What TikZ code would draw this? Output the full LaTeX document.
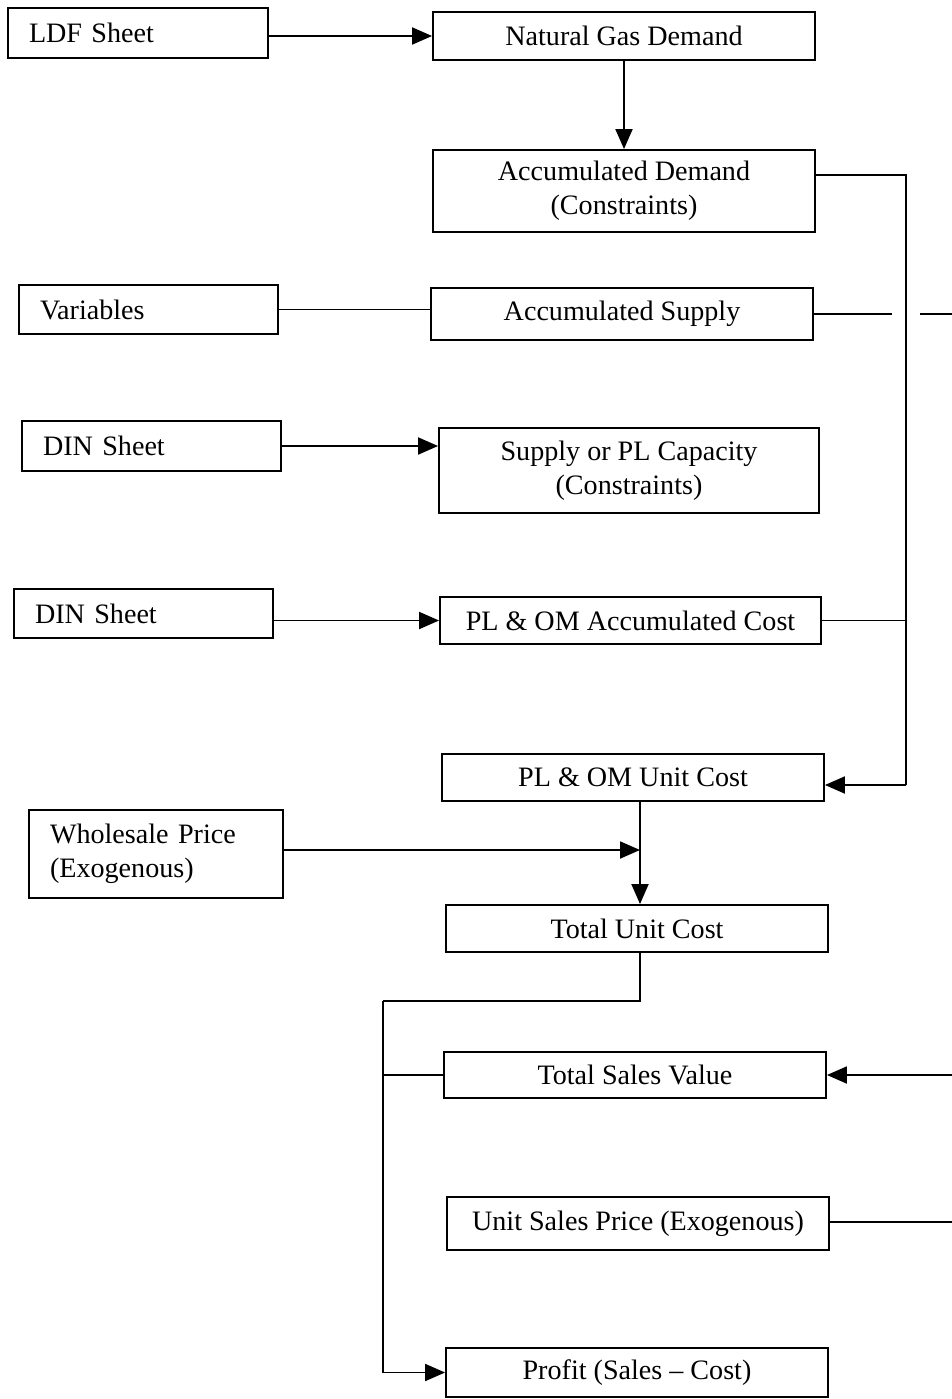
\documentclass[tikz,border=0pt]{standalone}
\usepackage{fontspec}
\setmainfont{Liberation Serif}
\usetikzlibrary{arrows.meta}
\tikzset{
  box/.style={draw, line width=1.1pt, inner sep=0pt, align=center,
    font=\fontsize{16}{19.5}\selectfont},
  lbox/.style={box, align=left, inner xsep=0.42cm},
  link/.style={line width=1.1pt},
  tip/.style={link, -{Triangle[length=0.4cm, width=0.34cm]}}
}
\begin{document}
\begin{tikzpicture}[x=0.02cm, y=-0.02cm]
\useasboundingbox (0,0) rectangle (952,1399);
%%% the input sheets on the left
\node[lbox, minimum width=5.2cm, minimum height=1cm, text width=4.36cm] (ldf) at (138,33) {LDF Sheet};
\node[lbox, minimum width=5.18cm, minimum height=0.98cm, text width=4.34cm] (var) at (148.5,309.5) {Variables};
\node[lbox, minimum width=5.18cm, minimum height=1cm, text width=4.34cm] (din1) at (151.5,446) {DIN Sheet};
\node[lbox, minimum width=5.18cm, minimum height=0.98cm, text width=4.34cm] (din2) at (143.5,613.5) {DIN Sheet};
\node[lbox, minimum width=5.08cm, minimum height=1.76cm, text width=4.24cm] (whp) at (156,854) {Wholesale Price\\(Exogenous)};
%%% the model column
\node[box, minimum width=7.64cm, minimum height=0.96cm] (ngd) at (624,36) {Natural Gas Demand};
\node[box, minimum width=7.64cm, minimum height=1.64cm] (acd) at (624,191) {Accumulated Demand\\(Constraints)};
\node[box, minimum width=7.64cm, minimum height=1.04cm] (acs) at (622,314) {Accumulated Supply};
\node[box, minimum width=7.6cm, minimum height=1.7cm] (cap) at (629,470.5) {Supply or PL Capacity\\(Constraints)};
\node[box, minimum width=7.62cm, minimum height=0.94cm] (acc) at (630.5,620.5) {PL \& OM Accumulated Cost};
\node[box, minimum width=7.64cm, minimum height=0.94cm] (unit) at (633,777.5) {PL \& OM Unit Cost};
\node[box, minimum width=7.64cm, minimum height=0.94cm] (tuc) at (637,928.5) {Total Unit Cost};
\node[box, minimum width=7.64cm, minimum height=0.92cm] (tsv) at (635,1075) {Total Sales Value};
\node[box, minimum width=7.64cm, minimum height=1.06cm] (usp) at (638,1223.5) {Unit Sales Price (Exogenous)};
\node[box, minimum width=7.64cm, minimum height=0.98cm] (prf) at (637,1372.5) {Profit (Sales -- Cost)};
%%% bends and free ends
\coordinate (trk1) at (906,175);
\coordinate (trk2) at (906,785);
\coordinate (gap1) at (892,314);
\coordinate (gap2) at (920,314);
\coordinate (rs) at (952,314);
\coordinate (rsv) at (952,1075);
\coordinate (rup) at (952,1222);
\coordinate (wh) at (640,850);
\coordinate (br) at (640,1001);
\coordinate (lft) at (383,1001);
%%% connectors
\draw[tip] (ldf.east |- ngd.west) -- (ngd.west);
\draw[tip] (ngd.south) -- (acd.north);
\draw[link] (acd.east |- trk1) -- (trk1) -- (trk2);
\draw[tip] (trk2) -- (trk2 -| unit.east);
\draw[link] (var.east) -- (var.east -| acs.west);
\draw[link] (acs.east) -- (gap1);
\draw[link] (gap2) -- (rs);
\draw[tip] (din1.east) -- (din1.east -| cap.west);
\draw[tip] (din2.east |- acc.west) -- (acc.west);
\draw[link] (acc.east) -- (acc.east -| trk1);
\draw[tip] (whp.east |- wh) -- (wh);
\draw[tip] (unit.south -| wh) -- (tuc.north -| wh);
\draw[link] (tuc.south -| br) -- (br) -- (lft);
\draw[tip] (lft) |- (prf.west);
\draw[link] (lft |- tsv.west) -- (tsv.west);
\draw[tip] (rsv) -- (tsv.east);
\draw[link] (usp.east |- rup) -- (rup);
\end{tikzpicture}
\end{document}
